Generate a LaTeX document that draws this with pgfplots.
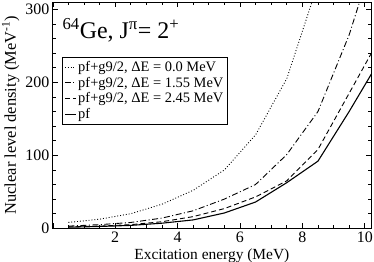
\documentclass[border=0pt]{standalone}
\usepackage{pgfplots}
\pgfplotsset{compat=1.18}
\usepackage{fontspec}
\setmainfont{Liberation Serif}
\begin{document}
\begin{tikzpicture}[x=1bp,y=1bp]
\useasboundingbox (-52.8bp,-33.7bp) rectangle (321.2bp,228.3bp);
\begin{axis}[
  scale only axis, width=318.2bp, height=226.3bp,
  xmin=0, xmax=10.2, ymin=0, ymax=310,
  xtick={0,2,4,6,8,10}, xticklabels={,2,4,6,8,10},
  ytick={0,100,200,300},
  minor x tick num=3, minor y tick num=4,
  tick align=inside, major tick length=5bp, minor tick length=3bp,
  tick style={black, line width=0.6pt},
  axis line style={line width=0.8pt},
  /pgf/number format/assume math mode=true,
  tick label style={font=\fontsize{16}{16}\selectfont},
  xlabel={Excitation energy (MeV)},
  ylabel={Nuclear level density (MeV\textsuperscript{-1})},
  xlabel style={font=\fontsize{15.5}{16}\selectfont, yshift=1bp},
  ylabel style={font=\fontsize{16.5}{17}\selectfont, yshift=-1bp},
  legend style={at={(rel axis cs:0.029,0.757)}, anchor=north west, font=\fontsize{14.5}{16}\selectfont,
    draw=black, line width=0.6pt, inner sep=2bp, row sep=0pt, cells={anchor=west}},
  legend image code/.code={\draw[#1, line width=0.9pt] (0bp,0bp) -- (11bp,0bp);},
  clip=true,
]
\addplot[black, line width=0.9pt, dash pattern=on 0.9bp off 2bp] coordinates {
 (0.5,8) (1.5,12.5) (2.5,20) (3.5,33) (4.5,52) (5.5,80) (6.5,128) (7.5,205) (8.5,335)};
\addlegendentry{pf+g9/2, ΔE = 0.0 MeV}
\addplot[black, line width=0.9pt, dash pattern=on 6bp off 2.5bp on 1bp off 2.5bp] coordinates {
 (0.5,3) (1.5,5) (2.5,8) (3.5,14) (4.5,24) (5.5,40) (6.5,60) (7.5,101) (8.5,160) (9.5,265) (10.5,400)};
\addlegendentry{pf+g9/2, ΔE = 1.55 MeV}
\addplot[black, line width=0.9pt, dash pattern=on 5bp off 3bp] coordinates {
 (0.5,2) (1.5,3) (2.5,5) (3.5,9) (4.5,16) (5.5,27) (6.5,43) (7.5,65) (8.5,108) (9.5,185) (10.5,262)};
\addlegendentry{pf+g9/2, ΔE = 2.45 MeV}
\addplot[black, line width=1.1pt] coordinates {
 (0.5,1.5) (1.5,2.5) (2.5,4) (3.5,7) (4.5,11.5) (5.5,21) (6.5,36) (7.5,62.5) (8.5,92) (9.5,160) (10.5,232)};
\addlegendentry{pf}
\node[anchor=base west, inner sep=0pt, font=\fontsize{24}{24}\selectfont] at (rel axis cs:0.03,0.837)
  {\textsuperscript{64}Ge, J\textsuperscript{π}= 2\textsuperscript{+}};
\end{axis}
\end{tikzpicture}
\end{document}
